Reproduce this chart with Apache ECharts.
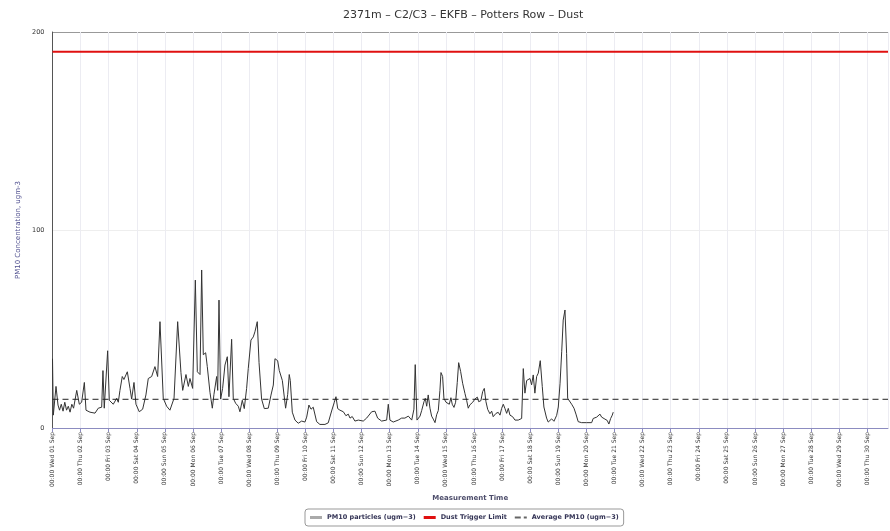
<!DOCTYPE html>
<html>
<head>
<meta charset="utf-8">
<script src="https://cdn.jsdelivr.net/npm/echarts@6/dist/echarts.min.js"></script>
<style>
html,body{margin:0;padding:0;background:#fff;}
#chart{width:890px;height:531px;}
</style>
</head>
<body>
<div id="chart"></div>
<script>
// Hours since 00:00 Wed 01 Sep, PM10 reading (ugm-3)
const pmSep01to07 = [
 [0,35],[0.7,6.5],[3,21],[4.7,11.6],[6,9],[7.5,12],[9,8.5],[10.5,13],[12,9],[13.5,11],[15,8],[16.5,12],[18,10],
 [20.7,19],[22.9,12],[24.9,13],[27.2,23],[28.6,9],[32,8],[36.3,7.5],[39.1,10],[42,10.5],[43.1,29],[44.2,10],
 [45.7,10],[47.1,39],[48.5,14],[51.9,12],[54.8,15],[56.2,13],[57.6,19],[59.6,26],[61,24.5],[63.9,28.4],[66.2,20],
 [67.6,14.6],[69.6,23],[71.3,12],[74.1,8.2],[77,9.5],[79.8,16.7],[81.8,25],[84.7,26],[87.5,31],[89,30],[89.8,26],
 [91.8,53.7],[94.6,15],[97.5,11],[100.3,9],[103.8,15],[106.9,53.7],[109.7,28],[111.2,19],[114,27],[116,21],
 [117.4,25],[119.7,20],[122,74.7],[123.7,28.4],[126,27],[127.4,79.8],[128.8,37],[130.8,38],[132.2,31],[134.5,18],
 [136.5,10],[137.9,17],[140.2,26],[141.1,19],[142.2,64.6],[143.6,14.6],[145.3,20],[147.3,31.8],[149.3,36],
 [150.7,15.8],[151.8,15],[153,44.8],[154.4,15],[156.4,12.5]
];
const pmSep07to14 = [
 [158.7,11],[160.1,8.2],[162.1,14],[163.8,9.8],[165.8,20],[167.2,30],[169.5,44.4],[171.5,46],[172.9,48.6],
 [174.9,53.7],[176.4,33],[178.6,14.6],[180.9,9.8],[184.3,10],[186.6,16.6],[188.6,21.7],[190,35],[192.3,34],
 [193.7,29],[194.9,30],[196.3,24],[197.4,25],[199.1,10],[200.9,17],[202.2,27],[203.1,24],[204.8,8],[207.1,4],
 [209.9,2.4],[212.8,3.5],[215.6,3],[217.1,5.5],[219,11.6],[220.8,9.5],[222.7,10.5],[224.2,9.8],[225.6,3.2],
 [228.4,1.8],[232.7,1.8],[235.5,2.6],[238.4,8.6],[240.7,13],[242.1,15.8],[243.6,9.8],[245.5,9],[248.4,8.2],
 [250.6,6.2],[252.6,7],[254.1,5],[256,5.8],[258.3,3.5],[261.2,4],[265.4,3.5],[268.3,5],[272.6,8.2],[275.4,8.5],
 [277.7,5],[281.1,3.5],[285.4,4],[286.8,12],[288.2,4],[291,3],[295.3,4],[298.2,5],[301,5],[303.9,6],[306.8,4],
 [308.7,9.5],[309.8,32],[311.3,4],[313.9,6]
];
const pmSep14to21 = [
 [315.3,8.8],[317.3,13.3],[318.4,15],[319.6,11],[320.9,16.7],[322.4,10],[323.8,6],[325.2,4.5],[326.7,2.7],
 [328.1,6.7],[329.5,8.8],[330.9,19],[331.8,28],[333.2,26],[334.3,15],[336.1,13],[337.5,14],[338.9,12],[340.3,15.3],
 [341.4,12],[342.9,10.4],[344.3,13],[345.7,23],[346.9,33],[348.6,28.5],[350.3,22.6],[352.3,17.4],[353.7,14],
 [355.1,10],[356.5,11.7],[358.9,13],[360.8,14.6],[362.8,15.6],[364,13.3],[365.9,13.8],[367.4,18.4],[368.8,20],
 [370.2,13.3],[371.7,9.4],[373.6,7.2],[375.1,8.5],[376.4,5.7],[378.8,7.4],[380.7,7.9],[382.2,6.5],[383.6,9.9],
 [385,12],[386.4,9.9],[387.9,7.4],[389.3,9.9],[390.7,6.5],[393,5.7],[395,4],[397.8,4],[400.7,4.8],[402.1,30],
 [403.5,17.6],[405,24],[406.3,23],[407.8,25],[409.2,21.8],[410.6,26.8],[412,17.6],[413.5,26],[414.9,27.7],
 [416.6,34],[418.3,21],[419.7,10.6],[422,5],[423.4,3],[426.3,4.6],[428.3,3.4],[430.6,6.4],[432,10.6],[433.5,22.6],
 [434.9,38.5],[436.2,54.5],[437.7,59.6],[439.1,37.7],[440,15],[441.3,16],[443.4,12],[445.4,10],[447.1,7],[449,3.2],
 [451.9,2.7],[456.2,2.7],[460.5,2.7],[461.8,4.8],[464.8,5.5],[467.6,7],[469,5.5],[470.4,6.2],[471.8,4.5],
 [473.8,3.8],[475.2,2],[476.7,4.8],[478.1,6.5],[478.9,8]
];
const dayLabels = [
 "00:00 Wed 01 Sep","00:00 Thu 02 Sep","00:00 Fri 03 Sep","00:00 Sat 04 Sep","00:00 Sun 05 Sep",
 "00:00 Mon 06 Sep","00:00 Tue 07 Sep","00:00 Wed 08 Sep","00:00 Thu 09 Sep","00:00 Fri 10 Sep",
 "00:00 Sat 11 Sep","00:00 Sun 12 Sep","00:00 Mon 13 Sep","00:00 Tue 14 Sep","00:00 Wed 15 Sep",
 "00:00 Thu 16 Sep","00:00 Fri 17 Sep","00:00 Sat 18 Sep","00:00 Sun 19 Sep","00:00 Mon 20 Sep",
 "00:00 Tue 21 Sep","00:00 Wed 22 Sep","00:00 Thu 23 Sep","00:00 Fri 24 Sep","00:00 Sat 25 Sep",
 "00:00 Sun 26 Sep","00:00 Mon 27 Sep","00:00 Tue 28 Sep","00:00 Wed 29 Sep","00:00 Thu 30 Sep"
];
const yTicks = [0, 100, 200];
const dustTriggerLimit = 190;
const averagePM10 = 14.5;
const xMaxHours = 713.6;

const pmData = pmSep01to07.concat(pmSep07to14, pmSep14to21);
const FONT = "DejaVu Sans";
const NAME_PM = 'PM10 particles (ugm\u22123)';
const NAME_LIMIT = 'Dust Trigger Limit';
const NAME_AVG = 'Average PM10 (ugm\u22123)';

const chart = echarts.init(document.getElementById('chart'), null, {renderer: 'canvas'});
chart.setOption({
  animation: false,
  backgroundColor: '#fff',
  title: {
    text: '2371m \u2013 C2/C3 \u2013 EKFB \u2013 Potters Row \u2013 Dust',
    left: 338, top: 5,
    textStyle: {fontFamily: FONT, fontSize: 11, fontWeight: 'normal', color: '#333'}
  },
  grid: {left: 52.5, right: 2, top: 32, bottom: 103, containLabel: false},
  legend: {
    bottom: 5, left: 305,
    itemWidth: 12, itemHeight: 3, itemGap: 8,
    borderColor: '#999', borderWidth: 1, borderRadius: 3, padding: [5, 5],
    textStyle: {fontFamily: FONT, fontSize: 6.5, fontWeight: 'bold', color: '#333355'},
    data: [
      {name: NAME_PM, icon: 'rect', itemStyle: {color: '#aaa'}},
      {name: NAME_LIMIT, icon: 'rect', itemStyle: {color: '#e01010'}},
      {name: NAME_AVG, icon: 'path://M0,0h6v2h-6z M9,0h3v2h-3z', itemStyle: {color: '#666'}}
    ]
  },
  xAxis: {
    type: 'value', min: 0, max: xMaxHours, interval: 24,
    name: 'Measurement Time', nameLocation: 'middle', nameGap: 55,
    nameTextStyle: {fontFamily: FONT, fontSize: 7, fontWeight: 'bold', color: '#4d4d6b'},
    axisLine: {lineStyle: {color: '#8c8cc0', width: 1}},
    axisTick: {show: true, length: 4, lineStyle: {color: '#8c8cc0'}},
    axisLabel: {
      rotate: 90, margin: 4, fontFamily: FONT, fontSize: 6, color: '#333',
      showMaxLabel: false,
      formatter: function (v) {
        const i = Math.round(v / 24);
        return (Math.abs(v - i * 24) < 1e-6 && dayLabels[i]) ? dayLabels[i] : '';
      }
    },
    splitLine: {show: true, lineStyle: {color: '#ececf2', width: 1}}
  },
  yAxis: {
    type: 'value', min: yTicks[0], max: yTicks[yTicks.length - 1], interval: 100,
    name: 'PM10 Concentration, ugm-3', nameLocation: 'middle', nameGap: 26, nameRotate: 90,
    nameTextStyle: {fontFamily: FONT, fontSize: 7, color: '#4f4f8f'},
    axisLine: {show: true, lineStyle: {color: '#555', width: 1}},
    axisTick: {show: false},
    axisLabel: {fontFamily: FONT, fontSize: 6.5, color: '#333', margin: 8},
    splitLine: {show: true, lineStyle: {color: ['#ccc', '#eeeeee', '#999'], width: 1}}
  },
  series: [
    {
      name: NAME_PM, type: 'line', data: pmData,
      showSymbol: false, symbol: 'none',
      lineStyle: {color: '#333', width: 1},
      z: 3
    },
    {
      name: NAME_LIMIT, type: 'line',
      data: [[0, dustTriggerLimit], [xMaxHours, dustTriggerLimit]],
      showSymbol: false, symbol: 'none',
      lineStyle: {color: '#e01010', width: 2},
      z: 4
    },
    {
      name: NAME_AVG, type: 'line',
      data: [[0, averagePM10], [xMaxHours, averagePM10]],
      showSymbol: false, symbol: 'none',
      lineStyle: {color: '#222', width: 1, type: [6, 4]},
      z: 4
    }
  ]
});
</script>
</body>
</html>
